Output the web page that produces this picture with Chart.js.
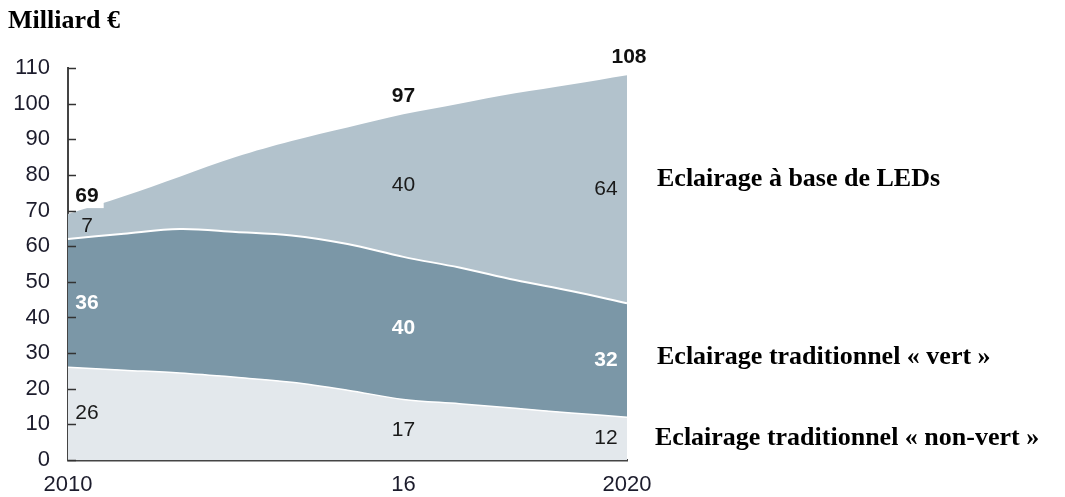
<!DOCTYPE html>
<html>
<head>
<meta charset="utf-8">
<script src="https://cdn.jsdelivr.net/npm/chart.js@4/dist/chart.umd.min.js"></script>
<style>
  html, body { margin: 0; padding: 0; background: #fff; }
  #wrap { width: 1065px; height: 497px; position: relative; }
</style>
</head>
<body>
<div id="wrap"><canvas id="myChart"></canvas></div>
<script>
const years = [2010, 2011, 2012, 2013, 2014, 2015, 2016, 2017, 2018, 2019, 2020];
const xTickLabels = { 2010: '2010', 2016: '16', 2020: '2020' };

const nonVert = [26, 25.2, 24.4, 23.2, 21.8, 19.6, 17, 15.8, 14.5, 13.2, 12];
const vert    = [36, 38.3, 40.4, 40.8, 41.2, 41, 40, 38.2, 36, 34.2, 32];
const leds    = [7, 10.5, 14.7, 21, 26.5, 32.7, 40, 46, 52.4, 58, 64];

const legendNames = ['Eclairage traditionnel « non-vert »', 'Eclairage traditionnel « vert »', 'Eclairage à base de LEDs'];
const labelledYears = [2010, 2016, 2020];

const totals = years.map((y, i) => Math.round(nonVert[i] + vert[i] + leds[i]));

const numFont = '21px "Liberation Sans", Arial, sans-serif';
const numFontBold = 'bold 21px "Liberation Sans", Arial, sans-serif';

const textPlugin = {
    id: 'texts',
    afterDatasetsDraw(chart){
        const ctx = chart.ctx;
        const xs = chart.scales.x, ys = chart.scales.y;
        ctx.save();
        ctx.textBaseline = 'middle';

        // inside ticks on the y axis
        ctx.strokeStyle = '#333';
        ctx.lineWidth = 1.5;
        for (let v = 0; v <= 110; v += 10) {
            const py = Math.round(ys.getPixelForValue(v)) + 0.5;
            ctx.beginPath();
            ctx.moveTo(xs.left, py);
            ctx.lineTo(xs.left + 8, py);
            ctx.stroke();
        }

        labelledYears.forEach(yr => {
            const i = years.indexOf(yr);
            let px = xs.getPixelForValue(i);
            ctx.textAlign = 'center';
            if (i === 0) px += 19;
            if (i === years.length - 1) px -= 21;
            const series = [nonVert, vert, leds];
            let base = 0;
            series.forEach((s, k) => {
                const mid = ys.getPixelForValue(base + s[i] / 2);
                base += s[i];
                if (k === 1) {
                    ctx.font = numFontBold;
                    ctx.fillStyle = '#ffffff';
                } else {
                    ctx.font = numFont;
                    ctx.fillStyle = '#1a1a1a';
                }
                ctx.fillText(String(Math.round(s[i])), px, mid);
            });
            // totals on top
            ctx.font = numFontBold;
            const t = String(totals[i]);
            let tx = xs.getPixelForValue(i);
            if (i === 0) tx += 19;
            if (i === years.length - 1) tx += 2;
            const ty = ys.getPixelForValue(base) - 18;
            if (i === 0) {
                const w = ctx.measureText(t).width;
                ctx.fillStyle = '#ffffff';
                ctx.fillRect(tx - w / 2 - 5, ty - 12, w + 10, 24);
            }
            ctx.fillStyle = '#111';
            ctx.fillText(t, tx, ty);
        });

        // title and series names
        ctx.textAlign = 'left';
        ctx.fillStyle = '#000';
        ctx.font = 'bold 26px "Liberation Serif", "Times New Roman", serif';
        ctx.fillText('Milliard €', 8, 21);
        ctx.fillText(legendNames[2], 657, 179);
        ctx.fillText(legendNames[1], 657, 357);
        ctx.fillText(legendNames[0], 655, 438);
        ctx.restore();
    }
};

const ctx = document.getElementById('myChart');
const myChart = new Chart(ctx, {
    type: 'line',
    data: {
        labels: years,
        datasets: [{
            label: legendNames[0],
            data: nonVert,
            backgroundColor: '#e3e8ec',
            borderColor: '#ffffff',
            borderWidth: 1.5,
            fill: 'origin',
            pointRadius: 0,
            tension: 0.35
        }, {
            label: legendNames[1],
            data: vert,
            backgroundColor: '#7b97a7',
            borderColor: '#ffffff',
            borderWidth: 2,
            fill: '-1',
            pointRadius: 0,
            tension: 0.35
        }, {
            label: legendNames[2],
            data: leds,
            backgroundColor: '#b2c2cc',
            borderColor: 'rgba(0,0,0,0)',
            borderWidth: 0,
            fill: '-1',
            pointRadius: 0,
            tension: 0.35
        }]
    },
    options: {
        responsive: true,
        maintainAspectRatio: false,
        animation: false,
        layout: { padding: { left: 0, right: 438, top: 68, bottom: 0 } },
        plugins: { legend: { display: false }, tooltip: { enabled: false } },
        scales: {
            x: {
                offset: false,
                grid: { display: false, drawTicks: false },
                border: { display: true, color: '#444', width: 2.5 },
                afterFit: function(s){ s.height = 37; },
                ticks: {
                    autoSkip: false,
                    maxRotation: 0,
                    padding: 12,
                    color: '#1c1c2c',
                    font: { family: '"Liberation Sans", Arial, sans-serif', size: 22 },
                    callback: function(v, i){ return xTickLabels[years[i]] || ''; }
                }
            },
            y: {
                stacked: true,
                min: 0,
                max: 110,
                grid: { display: false, drawTicks: false },
                border: { display: true, color: '#444', width: 2 },
                afterFit: function(s){ s.width = 68; },
                ticks: {
                    stepSize: 10,
                    padding: 18,
                    color: '#1c1c2c',
                    font: { family: '"Liberation Sans", Arial, sans-serif', size: 22 }
                }
            }
        }
    },
    plugins: [textPlugin]
});
</script>
</body>
</html>
